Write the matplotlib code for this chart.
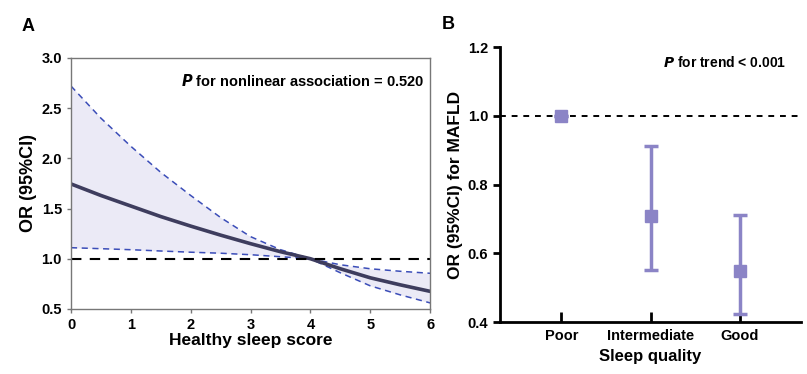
import numpy as np
import matplotlib.pyplot as plt

plt.rcParams['font.family'] = ['Liberation Sans', 'DejaVu Sans']
plt.rcParams['font.weight'] = 'bold'

# Panel A: restricted cubic spline, OR by healthy sleep score
score = [0, 0.5, 1, 1.5, 2, 2.5, 3, 3.5, 4, 4.5, 5, 5.5, 6]
or_mid = [1.745, 1.63, 1.525, 1.42, 1.325, 1.235, 1.15, 1.07, 1.0, 0.90, 0.81, 0.74, 0.675]
or_up = [2.72, 2.40, 2.12, 1.86, 1.63, 1.41, 1.22, 1.09, 1.0, 0.94, 0.90, 0.875, 0.855]
or_lo = [1.11, 1.10, 1.09, 1.077, 1.065, 1.055, 1.04, 1.02, 1.0, 0.86, 0.73, 0.64, 0.56]

# Panel B: OR by sleep quality
quality = ['Poor', 'Intermediate', 'Good']
q_or = [1.0, 0.709, 0.549]
q_lo = [1.0, 0.551, 0.422]
q_up = [1.0, 0.912, 0.711]

fig = plt.figure(figsize=(8.07, 3.74), dpi=100)

# ---- A
ax1 = fig.add_axes([0.088, 0.174, 0.445, 0.671])
ax1.fill_between(score, or_lo, or_up, color='#ebeaf6', lw=0)
ax1.plot(score, or_up, color='#3b4db8', lw=1.1, dashes=(4, 3))
ax1.plot(score, or_lo, color='#3b4db8', lw=1.1, dashes=(4, 3))
ax1.plot(score, or_mid, color='#3e3d5e', lw=2.6)
ax1.axhline(1.0, color='k', lw=1.5, dashes=(5, 4))
ax1.set_xlim(0, 6)
ax1.set_ylim(0.5, 3.0)
ax1.set_xticks(range(7))
ax1.set_yticks([0.5, 1.0, 1.5, 2.0, 2.5, 3.0])
ax1.set_yticklabels(['0.5', '1.0', '1.5', '2.0', '2.5', '3.0'])
for s in ax1.spines.values():
    s.set_color('#777777')
    s.set_linewidth(1)
ax1.tick_params(colors='#777777', labelcolor='k', length=3, width=1, labelsize=10.5)
ax1.set_xlabel('Healthy sleep score', fontsize=12.5, fontweight='bold', labelpad=1)
ax1.set_ylabel('OR (95%CI)', fontsize=13, fontweight='bold', labelpad=3)
ax1.text(0.985, 0.91, r'$\bfit{P}$ for nonlinear association = 0.520', transform=ax1.transAxes,
         ha='right', va='center', fontsize=10.5, fontweight='bold')
fig.text(0.027, 0.93, 'A', fontsize=13, fontweight='bold', va='center')

# ---- B
ax2 = fig.add_axes([0.6196, 0.139, 0.373, 0.735])
xpos = np.arange(1, len(quality) + 1)
err = [np.array(q_or) - np.array(q_lo), np.array(q_up) - np.array(q_or)]
ax2.axhline(1.0, color='k', lw=1.4, dashes=(3, 3), zorder=1)
ax2.errorbar(xpos, q_or, yerr=err, fmt='s', color='#8b84c6', ms=8, elinewidth=2.5,
             capsize=5, capthick=2.5, zorder=3)
ax2.set_xlim(0.31, 3.69)
ax2.set_ylim(0.4, 1.2)
ax2.set_xticks(xpos)
ax2.set_xticklabels(quality)
ax2.set_yticks([0.4, 0.6, 0.8, 1.0, 1.2])
ax2.spines['top'].set_visible(False)
ax2.spines['right'].set_visible(False)
ax2.spines['left'].set_linewidth(2)
ax2.spines['bottom'].set_linewidth(2)
ax2.tick_params(axis='y', length=5, width=2, labelsize=10.5)
ax2.tick_params(axis='x', direction='in', length=7, width=2, labelsize=10.5, pad=5)
ax2.set_xlabel('Sleep quality', fontsize=12, fontweight='bold', labelpad=4)
ax2.set_ylabel('OR (95%CI) for MAFLD', fontsize=12.5, fontweight='bold', labelpad=3)
ax2.text(0.95, 0.945, r'$\bfit{P}$ for trend < 0.001', transform=ax2.transAxes,
         ha='right', va='center', fontsize=10, fontweight='bold')
fig.text(0.547, 0.935, 'B', fontsize=13, fontweight='bold', va='center')

fig.savefig('out.png', dpi=100)
